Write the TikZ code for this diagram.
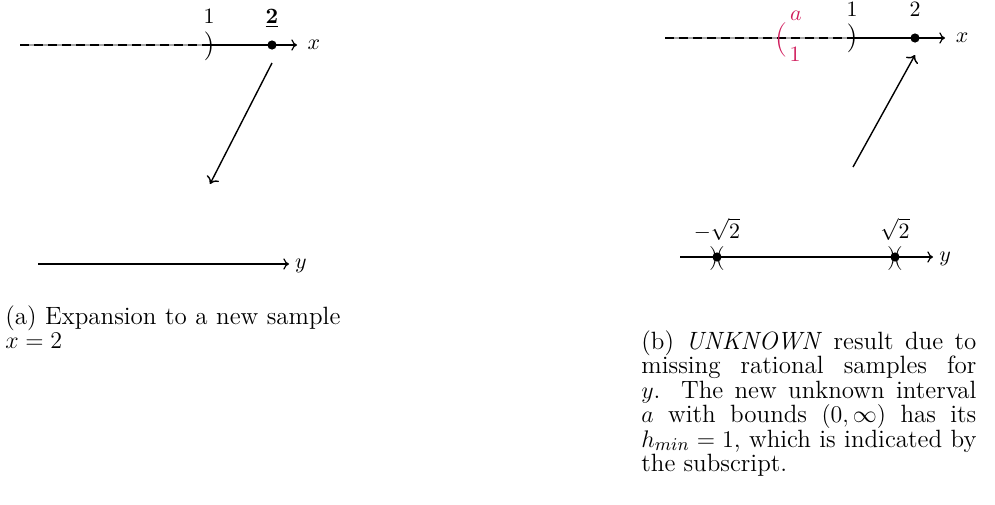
\documentclass[tikz,border=0pt]{standalone}
\usepackage{amsmath}
\usetikzlibrary{arrows.meta}
\definecolor{redp}{RGB}{208,28,92}
\begin{document}
\begin{tikzpicture}[x=0.5pt,y=-0.5pt,
  axis/.style={line width=0.6pt,-{To[length=2.8pt,width=5.6pt]}},
  dashax/.style={line width=1.1pt,dash pattern=on 4.5pt off 2.5pt},
  under/.style={line width=0.6pt,black!35},
  arr/.style={line width=0.7pt,-{To[length=3.4pt,width=6.8pt]}},
  lbl/.style={font=\fontsize{10.5}{12}\selectfont,inner sep=0pt},
  dot/.style={circle,fill,inner sep=0pt,minimum size=4.6pt},
  paren/.style={inner sep=0pt,font=\fontsize{14}{14}\selectfont},
  sparen/.style={inner sep=0pt,font=\fontsize{12}{12}\selectfont},
  captxt/.style={font=\fontsize{12.5}{12}\selectfont,inner sep=0pt,anchor=base west}]
\useasboundingbox (0,0) rectangle (995,504);
% ---------- left panel ----------
\coordinate (lx0) at (20,45);
\coordinate (lp1) at (207,45);
\coordinate (lx1) at (297,45);
\draw[under] (lx0) -- (lp1);
\draw[dashax] (lx0) -- (lp1);
\draw[axis] (lp1) -- (lx1);
\node[lbl] (lxl) at (314,45) {$x$};
\node[paren] (lpar) at (209,46) {$)$};
\node[lbl,anchor=base] (l1) at (209,23) {$1$};
\node[dot] (ls2) at (272,45) {};
\node[lbl,anchor=base] (l2) at (272,23) {$\underline{\mathbf{2}}$};
\coordinate (la0) at (272,63);
\coordinate (la1) at (210,184);
\draw[arr] (la0) -- (la1);
\coordinate (ly0) at (38,264);
\coordinate (ly1) at (289,264);
\draw[axis] (ly0) -- (ly1);
\node[lbl] (lyl) at (301,266) {$y$};
\node[captxt] (lc1) at (5,324) {\makebox[167.5pt][s]{(a) Expansion to a new sample}};
\node[captxt] (lc2) at (5,348.5) {$x=2$};
% ---------- right panel ----------
\coordinate (rx0) at (665,38);
\coordinate (rp1) at (850,38);
\coordinate (rx1) at (945,38);
\draw[under] (rx0) -- (rp1);
\draw[dashax] (rx0) -- (rp1);
\draw[axis] (rp1) -- (rx1);
\node[lbl] (rxl) at (962,38) {$x$};
\node[paren,text=redp,font=\fontsize{16.5}{16.5}\selectfont] (rpa) at (781,40) {$($};
\node[lbl,text=redp] (ra) at (796,16) {$a$};
\node[lbl,text=redp] (ra1) at (795,54) {$1$};
\node[paren] (rpar) at (852,38) {$)$};
\node[lbl,anchor=base] (r1) at (852,16) {$1$};
\node[dot] (rs2) at (915,38) {};
\node[lbl,anchor=base] (r2) at (915,16) {$2$};
\coordinate (ra0) at (853,167);
\coordinate (ra1e) at (915,55);
\draw[arr] (ra0) -- (ra1e);
\coordinate (ry0) at (680,257);
\coordinate (ry1) at (933,257);
\draw[axis] (ry0) -- (ry1);
\node[lbl] (ryl) at (945,259) {$y$};
\foreach \n/\px in {m/717,p/895}{
  \node[dot] (rd\n) at (\px,257) {};
  \node[sparen,xshift=-1.6pt] (rl\n) at (\px,258) {$)$};
  \node[sparen,xshift=1.6pt] (rr\n) at (\px,258) {$($};
}
\node[lbl,anchor=base] (rlm) at (717,238) {$-\sqrt{2}$};
\node[lbl,anchor=base] (rlp) at (895,238) {$\sqrt{2}$};
\node[captxt] (rc1) at (641,349) {\makebox[167.5pt][s]{(b) \textit{UNKNOWN} result due to}};
\node[captxt] (rc2) at (641,373.5) {\makebox[167.5pt][s]{missing rational samples for}};
\node[captxt] (rc3) at (641,398) {\makebox[167.5pt][s]{$y$. The new unknown interval}};
\node[captxt] (rc4) at (641,422.5) {\makebox[167.5pt][s]{$a$ with bounds $(0,\infty)$ has its}};
\node[captxt] (rc5) at (641,447) {\makebox[167.5pt][s]{$h_{min}=1$, which is indicated by}};
\node[captxt] (rc6) at (641,471.5) {the subscript.};
\end{tikzpicture}
\end{document}
